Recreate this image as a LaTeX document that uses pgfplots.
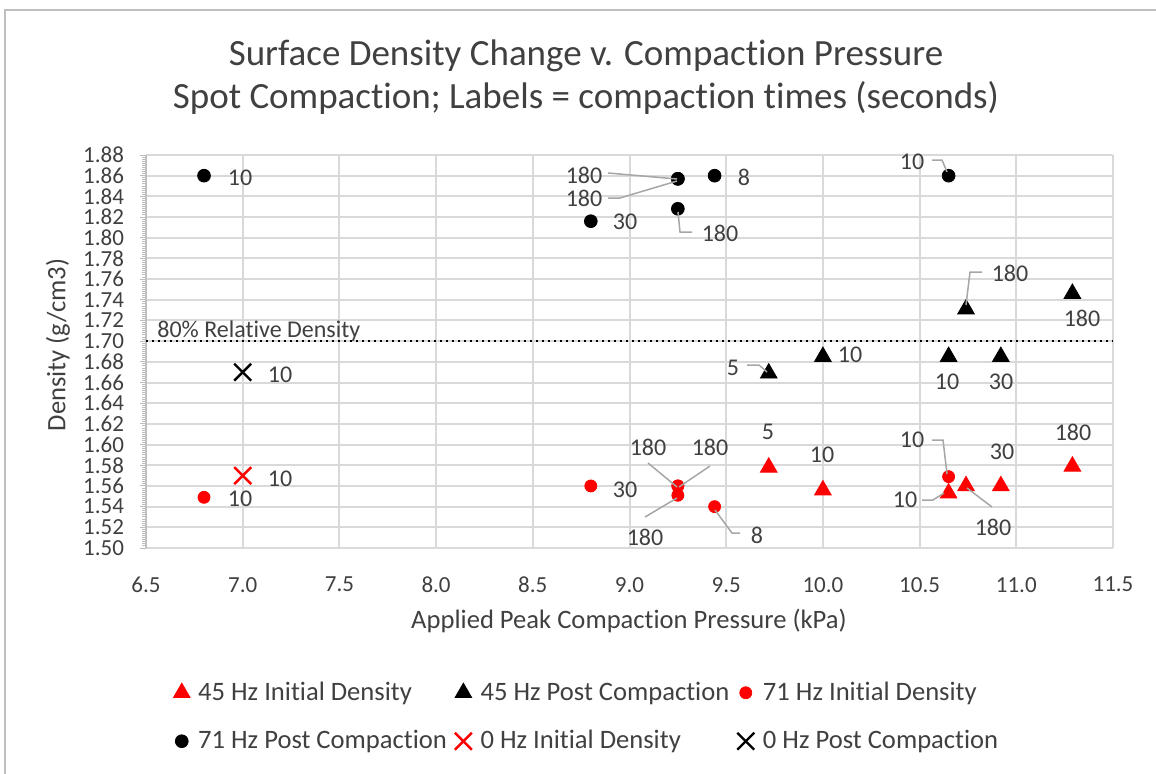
\documentclass[border=0pt]{standalone}
\usepackage{pgfplots}
\pgfplotsset{compat=1.18}
\usepackage{fontspec}
\setmainfont{Carlito}[Ligatures={NoCommon,NoRequired,NoContextual}]
\definecolor{txt}{HTML}{404040}
\definecolor{gridc}{HTML}{D9D9D9}
\definecolor{axc}{HTML}{BFBFBF}
\definecolor{lead}{HTML}{A6A6A6}
\definecolor{xred}{HTML}{FF0000}
\newcommand{\lab}{\fontsize{12}{14}\selectfont}

\begin{document}
\begin{tikzpicture}
% pixel frame: (146,548) is the axis origin
\begin{scope}[x=0.5pt, y=-0.5pt, shift={(-146,-548)}]
  \path[use as bounding box] (0,0) rectangle (1156,773);
  \draw[axc, line width=1pt] (5,790) -- (5,10) -- (1170,10);
  \node[anchor=base, text=txt, font=\fontsize{18.5}{22}\selectfont] at (586,65)
    {Surface Density Change v. Compaction Pressure};
  \node[anchor=base, text=txt, font=\fontsize{18.5}{22}\selectfont] at (586,108)
    {Spot Compaction; Labels = compaction times (seconds)};
  \node[text=txt, font=\fontsize{13.3}{15}\selectfont] at (629,621)
    {Applied Peak Compaction Pressure (kPa)};
  \node[text=txt, rotate=90, font=\fontsize{13.3}{15}\selectfont] at (58,345)
    {Density (g/cm3)};
\end{scope}

\begin{axis}[
  at={(0,0)}, anchor=south west,
  scale only axis, width=483.5pt, height=196.5pt,
  xmin=6.5, xmax=11.5, ymin=1.50, ymax=1.88,
  xtick={6.5,7.0,7.5,8.0,8.5,9.0,9.5,10.0,10.5,11.0,11.5},
  ytick={1.50,1.52,1.54,1.56,1.58,1.60,1.62,1.64,1.66,1.68,1.70,1.72,1.74,1.76,1.78,1.80,1.82,1.84,1.86,1.88},
  minor y tick num=9,
  grid=major, grid style={gridc, line width=1pt},
  axis x line*=bottom, axis y line*=left,
  axis line style={-, line width=1pt},
  x axis line style={draw=gridc},
  y axis line style={draw=axc},
  tick align=outside,
  xtick style={draw=none},
  ytick style={draw=axc, line width=0.5pt},
  major tick length=3pt, minor tick length=2pt,
  /pgf/number format/assume math mode=true,
  xticklabel style={/pgf/number format/.cd, fixed, fixed zerofill, precision=1,
    /tikz/.cd, font=\fontsize{11.5}{13}\selectfont, text=txt, yshift=-8pt},
  yticklabel style={/pgf/number format/.cd, fixed, fixed zerofill, precision=2,
    /tikz/.cd, font=\fontsize{11.5}{13}\selectfont, text=txt, xshift=-4.5pt},
  legend columns=3,
  legend cell align=left,
  legend image code/.code={\path (-4pt,0pt) (4pt,0pt);
    \draw[#1] plot[only marks] coordinates {(0pt,0pt)};},
  legend style={at={(0.0217,-0.430)}, anchor=west, draw=none, fill=none,
    font=\fontsize{13.3}{15}\selectfont, text=txt, row sep=9.5pt,
    /tikz/every odd column/.append style={column sep=2pt},
    /tikz/every even column/.append style={column sep=3pt}},
]
\addplot[only marks, mark=triangle*, mark size=4.8pt, color=xred]
  coordinates {(9.72,1.578)(10.00,1.556)(10.65,1.553)(10.74,1.560)(10.92,1.560)(11.29,1.579)};
\addlegendentry{\makebox[123pt][l]{45 Hz Initial Density}}
\addplot[only marks, mark=triangle*, mark size=4.8pt, color=black]
  coordinates {(9.72,1.669)(10.00,1.685)(10.65,1.685)(10.92,1.685)(10.74,1.731)(11.29,1.746)};
\addlegendentry{\makebox[123pt][l]{45 Hz Post Compaction}}
\addplot[only marks, mark=*, mark size=3pt, color=xred]
  coordinates {(6.80,1.549)(8.80,1.560)(9.25,1.560)(9.25,1.560)(9.25,1.551)(9.44,1.540)(10.65,1.569)};
\addlegendentry{\makebox[123pt][l]{71 Hz Initial Density}}
\addplot[only marks, mark=*, mark size=3.2pt, color=black]
  coordinates {(6.80,1.860)(9.25,1.857)(9.25,1.857)(9.25,1.828)(8.80,1.816)(9.44,1.860)(10.65,1.860)};
\addlegendentry{\makebox[123pt][l]{71 Hz Post Compaction}}
\addplot[only marks, mark=x, mark size=6pt, color=xred, line width=1.2pt]
  coordinates {(7.00,1.570)};
\addlegendentry{\makebox[123pt][l]{0 Hz Initial Density}}
\addplot[only marks, mark=x, mark size=6pt, color=black, line width=1.2pt]
  coordinates {(7.00,1.670)};
\addlegendentry{\makebox[123pt][l]{0 Hz Post Compaction}}
% 80% relative density
\addplot[forget plot, black, dotted, line width=1pt]
  coordinates {(6.5,1.70)(11.5,1.70)};
\end{axis}

% data labels and leader lines, in pixel frame
\begin{scope}[x=0.5pt, y=-0.5pt, shift={(-146,-548)}]
  \node[anchor=base west, inner sep=0pt, text=txt, font=\lab] at (157,337) {80\% Relative Density};
  \begin{scope}[lead, line width=0.75pt]
    \draw (608,173) -- (677,179);
    \draw (608,198) -- (620,198) -- (677,181);
    \draw (678,212) -- (680,232) -- (692,232);
    \draw (932,160) -- (942,160) -- (947,172);
    \draw (747,365) -- (759,365) -- (767,372);
    \draw (982,272) -- (970,272) -- (966,305);
    \draw (648,463) -- (677,487);
    \draw (710,466) -- (679,487);
    \draw (645,517) -- (677,498);
    \draw (715,510) -- (732,533) -- (740,533);
    \draw (932,440) -- (943,440) -- (947,474);
    \draw (922,500) -- (933,500) -- (944,493);
    \draw (967,488) -- (992,507);
  \end{scope}
  \begin{scope}[every node/.style={text=txt, font=\lab, inner sep=0pt}]
    \node at (240,178) {10};
    \node at (584,175) {180};
    \node at (584,198) {180};
    \node at (744,177) {8};
    \node at (625,222) {30};
    \node at (720,233) {180};
    \node at (912,162) {10};
    \node at (733,368) {5};
    \node at (850,355) {10};
    \node at (947,382) {10};
    \node at (1001,382) {30};
    \node at (1010,273) {180};
    \node at (1082,318) {180};
    \node at (280,375) {10};
    \node at (280,479) {10};
    \node at (240,499) {10};
    \node at (625,490) {30};
    \node at (648,447) {180};
    \node at (710,447) {180};
    \node at (645,537) {180};
    \node at (757,535) {8};
    \node at (912,440) {10};
    \node at (768,432) {5};
    \node at (822,455) {10};
    \node at (905,500) {10};
    \node at (993,527) {180};
    \node at (1002,452) {30};
    \node at (1073,432) {180};
  \end{scope}
\end{scope}
\end{tikzpicture}
\end{document}
